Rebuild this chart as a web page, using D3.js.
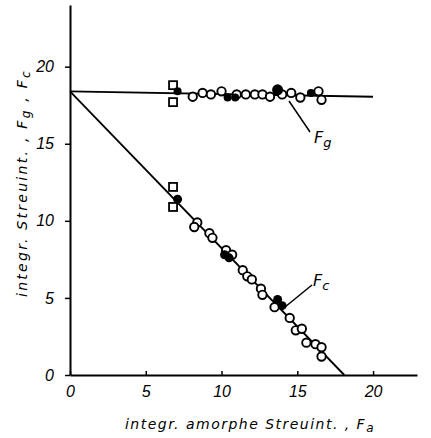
<!DOCTYPE html>
<html><head><meta charset="utf-8">
<script src="https://cdn.jsdelivr.net/npm/d3@7"></script>
<style>body{margin:0;background:#fff}svg{display:block}</style>
</head><body>
<svg id="c" width="431" height="438"></svg>
<script>
// Tick labels
const xTicks = [0, 5, 10, 15, 20];
const yTicks = [0, 5, 10, 15, 20];
// F_g series (upper)
const fgOpenX = [8.1, 8.75, 9.3, 10.0, 11.0, 11.6, 12.2, 12.7, 13.2, 14.0, 14.6, 15.2, 16.4, 16.6];
const fgOpenY = [18.05, 18.3, 18.2, 18.4, 18.2, 18.2, 18.2, 18.2, 18.05, 18.2, 18.3, 18.0, 18.4, 17.85];
const fgFillX = [7.1, 10.4, 10.9, 13.7, 15.9];
const fgFillY = [18.4, 18.0, 18.0, 18.5, 18.3];
const fgFillR = [4, 4, 4, 5.5, 4];
const fgSqX = [6.8, 6.8];
const fgSqY = [18.8, 17.7];
// F_c series (lower)
const fcOpenX = [8.4, 8.2, 9.2, 9.4, 10.3, 10.7, 11.4, 11.7, 12.0, 12.6, 12.7, 13.5, 14.5, 14.9, 15.3, 15.6, 16.2, 16.6, 16.6];
const fcOpenY = [9.9, 9.6, 9.2, 8.9, 8.1, 7.8, 6.8, 6.4, 6.2, 5.6, 5.2, 4.4, 3.7, 2.9, 3.0, 2.1, 2.0, 1.8, 1.2];
const fcFillX = [7.1, 10.2, 10.5, 13.7, 14.0];
const fcFillY = [11.4, 7.8, 7.6, 4.9, 4.5];
const fcSqX = [6.8, 6.8];
const fcSqY = [12.2, 10.9];
// Fitted lines
const fgLineX = [0, 20.0];
const fgLineY = [18.4, 18.05];
const fcLineX = [0, 18.1];
const fcLineY = [18.4, 0];

const svg = d3.select("#c");
const x = d3.scaleLinear().domain([0, 22.9]).range([70, 417]);
const y = d3.scaleLinear().domain([0, 24.0]).range([375, 5]);
const font = "'Liberation Sans', Arial, sans-serif";
const tfont = "'DejaVu Sans', 'Liberation Sans', sans-serif";

// axes
const xAxis = svg.append("g").attr("transform", "translate(0,375)")
  .call(d3.axisBottom(x).tickValues(xTicks).tickSize(-4).tickSizeOuter(0).tickPadding(11));
const yAxis = svg.append("g").attr("transform", "translate(70,0)")
  .call(d3.axisLeft(y).tickValues(yTicks).tickSize(5).tickSizeOuter(0).tickPadding(11));
[xAxis, yAxis].forEach(a => {
  a.select(".domain").attr("stroke", "#000").attr("stroke-width", 2);
  a.selectAll(".tick line").attr("stroke", "#000").attr("stroke-width", 1.5);
  a.selectAll(".tick text").attr("font-family", font).attr("font-style", "italic")
   .attr("font-size", 16).attr("fill", "#000");
});
xAxis.selectAll(".tick text").attr("dy", "0.71em");

// lines
const line = d3.line().x(d => x(d[0])).y(d => y(d[1]));
svg.append("path").datum(d3.zip(fgLineX, fgLineY)).attr("d", line)
  .attr("stroke", "#000").attr("stroke-width", 1.8).attr("fill", "none");
svg.append("path").datum(d3.zip(fcLineX, fcLineY)).attr("d", line)
  .attr("stroke", "#000").attr("stroke-width", 1.8).attr("fill", "none");

// markers
function opens(xs, ys) {
  svg.append("g").selectAll("circle").data(d3.zip(xs, ys)).join("circle")
    .attr("cx", d => x(d[0])).attr("cy", d => y(d[1])).attr("r", 4.2)
    .attr("fill", "#fff").attr("stroke", "#000").attr("stroke-width", 1.9);
}
function fills(xs, ys, rs) {
  svg.append("g").selectAll("circle").data(d3.zip(xs, ys)).join("circle")
    .attr("cx", d => x(d[0])).attr("cy", d => y(d[1])).attr("r", (d, i) => rs ? rs[i] : 4.5)
    .attr("fill", "#000");
}
function squares(xs, ys) {
  svg.append("g").selectAll("rect").data(d3.zip(xs, ys)).join("rect")
    .attr("x", d => x(d[0]) - 4).attr("y", d => y(d[1]) - 4).attr("width", 8).attr("height", 8)
    .attr("fill", "#fff").attr("stroke", "#000").attr("stroke-width", 1.8);
}
squares(fgSqX, fgSqY); squares(fcSqX, fcSqY);
opens(fgOpenX, fgOpenY); opens(fcOpenX, fcOpenY);
fills(fgFillX, fgFillY, fgFillR); fills(fcFillX, fcFillY);

// leader lines and labels
svg.append("line").attr("x1", 289).attr("y1", 101).attr("x2", 310).attr("y2", 132)
  .attr("stroke", "#000").attr("stroke-width", 1.5);
svg.append("line").attr("x1", 285).attr("y1", 307).attr("x2", 312).attr("y2", 285)
  .attr("stroke", "#000").attr("stroke-width", 1.5);
function flabel(px, py, sub) {
  const t = svg.append("text").attr("x", px).attr("y", py)
    .attr("font-family", tfont).attr("font-style", "italic").attr("font-size", 16);
  t.append("tspan").text("F");
  t.append("tspan").attr("dy", 4).attr("font-size", 13).text(sub);
}
flabel(314, 143, "g");
flabel(313, 286, "c");

// axis titles, stretched to the reference's width
function fit(t, target) {
  const n = t.text().length;
  const w = t.node().getComputedTextLength();
  t.attr("letter-spacing", Math.max(0, (target - w) / n));
}
const xt = svg.append("text").attr("x", 250).attr("y", 429).attr("text-anchor", "middle")
  .attr("font-family", tfont).attr("font-style", "italic").attr("font-size", 14);
xt.append("tspan").text("integr. amorphe Streuint. , F");
xt.append("tspan").attr("dy", 3).attr("font-size", 12).text("a");
fit(xt, 250);

const yt = svg.append("text").attr("transform", "translate(27,183) rotate(-90)")
  .attr("text-anchor", "middle").attr("font-family", tfont).attr("font-style", "italic").attr("font-size", 14);
yt.append("tspan").text("integr. Streuint. , F");
yt.append("tspan").attr("dy", 3).attr("font-size", 12).text("g");
yt.append("tspan").attr("dy", -3).text(" , F");
yt.append("tspan").attr("dy", 3).attr("font-size", 12).text("c");
fit(yt, 228);
</script>
</body></html>
